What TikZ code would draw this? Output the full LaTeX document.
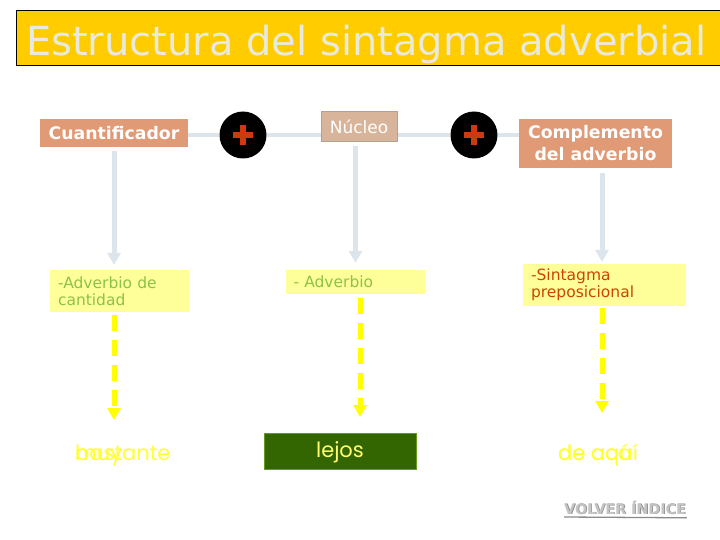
\documentclass[tikz,border=0pt]{standalone}
\usepackage{fontspec}
\setmainfont{DejaVu Sans}
\newfontfamily\handfont{Poppins}
\usetikzlibrary{arrows.meta}
\definecolor{bannery}{HTML}{FFCC00}
\definecolor{titlegray}{HTML}{E9E9DC}
\definecolor{salmon}{HTML}{E09A76}
\definecolor{nucfill}{HTML}{D8B49A}
\definecolor{nucedge}{HTML}{AAB44A}
\definecolor{conn}{HTML}{DCE4EC}
\definecolor{paleyel}{HTML}{FFFF99}
\definecolor{greentext}{HTML}{8CC24A}
\definecolor{orangetext}{HTML}{CC4400}
\definecolor{plusred}{HTML}{CC3A10}
\definecolor{brightyel}{HTML}{FFFF00}
\definecolor{wordyel}{HTML}{FFFF33}
\definecolor{darkgreen}{HTML}{336600}
\definecolor{edgegreen}{HTML}{6A9A1C}
\definecolor{lejosyel}{HTML}{FFFF70}
\definecolor{volgray}{HTML}{C4C4C4}
\definecolor{volshadow}{HTML}{8A8A8A}
\tikzset{
  headbox/.style={fill=salmon, text=white, inner sep=0pt, align=center,
    font=\fontsize{17.3}{22}\selectfont\bfseries},
  nucbox/.style={fill=nucfill, draw=nucedge, line width=1pt, text=white, inner sep=0pt,
    font=\fontsize{17}{22}\selectfont},
  plusc/.style={circle, fill=black, minimum size=47pt, inner sep=0pt,
    path picture={
      \fill[plusred] ([xshift=-10pt,yshift=-3pt]path picture bounding box.center) rectangle ++(20pt,6pt);
      \fill[plusred] ([xshift=-3pt,yshift=-10pt]path picture bounding box.center) rectangle ++(6pt,20pt);
    }},
  yelbox/.style={fill=paleyel, inner xsep=8pt, inner ysep=0pt, align=left,
    font=\fontsize{15.5}{17}\selectfont},
  hline/.style={draw=conn, line width=4pt},
  varrow/.style={draw=conn, line width=5pt, -{Triangle[width=13pt,length=12pt]}},
  darrow/.style={draw=brightyel, line width=5pt, dash pattern=on 16pt off 9pt,
    -{Triangle[width=13pt,length=12pt]}},
  word/.style={text=wordyel, inner sep=0pt, anchor=base west,
    font=\handfont\fontsize{21}{24}\selectfont},
}
\begin{document}
\begin{tikzpicture}[x=1pt,y=-1pt]
\useasboundingbox (0,0) rectangle (720,540);
\fill[white] (0,0) rectangle (720,540);

% title banner
\fill[bannery] (16,11) rectangle (720,66);
\draw[line width=1pt] (720,11) -- (16,11) -- (16,66) -- (720,66);
\node[anchor=base west, inner sep=0pt, text=titlegray,
  font=\fontsize{40}{40}\selectfont] (title) at (26,56) {Estructura del sintagma adverbial};

% top row
\node[headbox, minimum width=148pt, minimum height=28pt] (cuant) at (114,133) {Cuantificador};
\node[plusc] (p1) at (243,135) {};
\node[nucbox, minimum width=76pt, minimum height=30pt] (nuc) at (359,127) {Núcleo};
\node[plusc] (p2) at (474,135) {};
\node[headbox, minimum width=153pt, minimum height=49pt] (comp) at (595.5,143.5) {Complemento\\del adverbio};

\draw[hline] (cuant.east |- p1) -- (p1.west);
\draw[hline] (p1.east) -- (nuc.west |- p1);
\draw[hline] (nuc.east |- p1) -- (p2.west);
\draw[hline] (p2.east) -- (comp.west |- p2);

% middle row
\node[yelbox, text=greentext, text width=123pt, minimum height=42pt] (y1) at (119.5,291) {-Adverbio de\\cantidad};
\node[yelbox, text=greentext, text width=124pt, inner xsep=7.5pt, minimum height=24pt] (y2) at (355.5,282) {- Adverbio};
\node[yelbox, text=orangetext, text width=147pt, minimum height=42pt] (y3) at (604.5,285) {-Sintagma\\preposicional};

\draw[varrow] ([yshift=-4pt]cuant.south) -- ([yshift=5pt]cuant.south |- y1.north);
\draw[varrow] ([yshift=-4pt]nuc.south -| y2.north) -- ([yshift=7pt]y2.north);
\draw[varrow] ([xshift=-2.5pt,yshift=-5pt]y3.north |- comp.south) -- ([xshift=-2.5pt,yshift=2pt]y3.north);

% bottom row
\node[word] (bast) at (75,460) {bastante};
\node[word] (muy) at (75,460) {muy};
\node[fill=darkgreen, draw=edgegreen, line width=1pt, minimum width=152pt, minimum height=36pt,
  inner sep=0pt, text=lejosyel, text height=15pt, text depth=3pt,
  font=\handfont\fontsize{21}{24}\selectfont] (lejos) at (340,451) {lejos};
\node[word] (aqui) at (558,460) {de aquí};
\node[word] (aca) at (558,460) {de acá};

\coordinate (t1) at (114,420);
\coordinate (t2) at (360,417);
\coordinate (t3) at (602,413);
\draw[darrow] ([yshift=-3pt]y1.south -| cuant.south) -- (t1);
\draw[darrow] ([xshift=4.5pt,yshift=-4pt]y2.south) -- (t2);
\draw[darrow] ([xshift=-2.5pt,yshift=-2pt]y3.south) -- (t3);

% volver
\node[anchor=base west, inner sep=0pt, text=volshadow, font=\fontsize{14.3}{14}\selectfont\bfseries]
  (volsh) at (564.8,514.8) {VOLVER ÍNDICE};
\node[anchor=base west, inner sep=0pt, text=volgray, font=\fontsize{14.3}{14}\selectfont\bfseries]
  (volver) at (564,514) {VOLVER ÍNDICE};
\draw[volshadow, line width=1.3pt] ([yshift=-3pt]volver.base west) -- ([yshift=-3pt]volsh.base east);
\end{tikzpicture}
\end{document}
